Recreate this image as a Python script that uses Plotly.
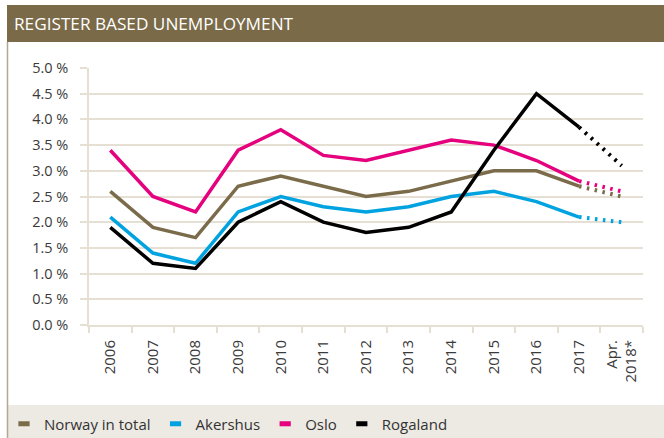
import plotly.graph_objects as go

categories = ["2006", "2007", "2008", "2009", "2010", "2011", "2012", "2013",
              "2014", "2015", "2016", "2017", "Apr.<br>2018*"]
norway = [2.6, 1.9, 1.7, 2.7, 2.9, 2.7, 2.5, 2.6, 2.8, 3.0, 3.0, 2.7, 2.5]
akershus = [2.1, 1.4, 1.2, 2.2, 2.5, 2.3, 2.2, 2.3, 2.5, 2.6, 2.4, 2.1, 2.0]
oslo = [3.4, 2.5, 2.2, 3.4, 3.8, 3.3, 3.2, 3.4, 3.6, 3.5, 3.2, 2.8, 2.6]
rogaland = [1.9, 1.2, 1.1, 2.0, 2.4, 2.0, 1.8, 1.9, 2.2, 3.4, 4.5, 3.85, 3.1]
series_names = ["Norway in total", "Akershus", "Oslo", "Rogaland"]
y_ticks = [0, 0.5, 1, 1.5, 2, 2.5, 3, 3.5, 4, 4.5, 5]
y_tick_labels = ["0.0 %", "0.5 %", "1.0 %", "1.5 %", "2.0 %", "2.5 %", "3.0 %",
                 "3.5 %", "4.0 %", "4.5 %", "5.0 %"]

colors = ["#7a6b4a", "#00a3e0", "#e5007d", "#000000"]
series = [norway, akershus, oslo, rogaland]

W, H = 664, 438
L, R, T, B = 89, 21, 68, 113
pw, ph = W - L - R, H - T - B

def px(x):
    return (x - L) / pw

def py(y):
    return (H - B - y) / ph

FONT = "Open Sans"

fig = go.Figure()
for name, vals, col in zip(series_names, series, colors):
    fig.add_trace(go.Scatter(x=categories[:-1], y=vals[:-1], mode="lines",
                             line=dict(color=col, width=3.5), name=name,
                             showlegend=False, hoverinfo="skip"))
    fig.add_trace(go.Scatter(x=categories[-2:], y=vals[-2:], mode="lines",
                             line=dict(color=col, width=4, dash="2.5px,5.5px"),
                             showlegend=False, hoverinfo="skip"))
# legend-only entries
for name, col in zip(series_names, colors):
    fig.add_trace(go.Scatter(x=[None], y=[None], mode="markers", name=name,
                             marker=dict(symbol="line-ew-open", size=8, color=col,
                                         line=dict(color=col, width=5))))

shapes = [
    dict(type="rect", xref="paper", yref="paper", x0=px(7), x1=px(664), y0=py(42), y1=py(5),
         fillcolor="#7a6a47", line=dict(width=0), layer="below"),
    dict(type="rect", xref="paper", yref="paper", x0=px(7), x1=px(664), y0=py(438), y1=py(405),
         fillcolor="#ede9e3", line=dict(width=0), layer="below"),
    dict(type="line", xref="paper", yref="paper", x0=px(7.5), x1=px(7.5), y0=py(438), y1=py(42),
         line=dict(color="#b3a78f", width=1.5)),
]

fig.update_layout(
    width=W, height=H,
    margin=dict(l=L, r=R, t=T, b=B, autoexpand=False),
    paper_bgcolor="white", plot_bgcolor="white",
    font=dict(family=FONT, color="#3a3a3a", size=14),
    shapes=shapes,
    annotations=[dict(text="REGISTER BASED UNEMPLOYMENT", xref="paper", yref="paper",
                      x=px(12), y=py(24), xanchor="left", yanchor="middle", showarrow=False,
                      font=dict(color="white", size=17.2, family=FONT))],
    showlegend=True,
    legend=dict(orientation="h", x=px(4), y=py(424), xanchor="left", yanchor="middle",
                bgcolor="rgba(0,0,0,0)", font=dict(size=15, color="#333", family=FONT),
                itemwidth=30, tracegroupgap=0),
    xaxis=dict(type="category", categoryorder="array", categoryarray=categories,
               showgrid=False, ticks="outside", tickson="boundaries", ticklen=6,
               tickcolor="#e6dfd4", tickwidth=1.5, showline=True, linecolor="#e6dfd4",
               linewidth=2, tickangle=-90, tickfont=dict(size=15, color="#3a3a3a"),
               ticklabelstandoff=7,
               range=[-0.5, 12.5], fixedrange=True, automargin=False),
    yaxis=dict(range=[0, 5], tickvals=y_ticks, ticktext=y_tick_labels,
               showgrid=True, gridcolor="#e6dfd4", gridwidth=1.5, zeroline=False,
               showline=True, linecolor="#e6dfd4", linewidth=1.5,
               ticks="outside", ticklen=7, tickcolor="#e6dfd4", tickwidth=1.5,
               ticklabelstandoff=9, tickfont=dict(size=14.5, color="#3a3a3a"),
               fixedrange=True, automargin=False),
)

fig.write_html("out.html", config={"displayModeBar": False},
               post_script="document.body.style.margin='0px';")
